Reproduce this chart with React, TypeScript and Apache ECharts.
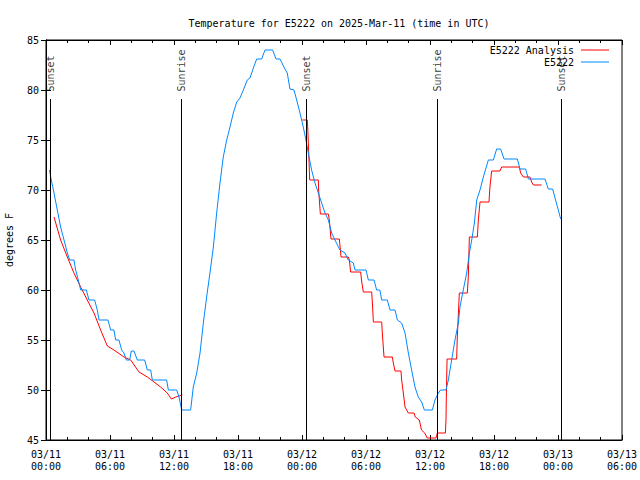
import React, { useEffect, useRef } from "react";
import * as echarts from "echarts";

// Hours since 03/11 00:00 UTC
const xTickLabels = [
  "03/11\n00:00", "03/11\n06:00", "03/11\n12:00", "03/11\n18:00",
  "03/12\n00:00", "03/12\n06:00", "03/12\n12:00", "03/12\n18:00",
  "03/13\n00:00", "03/13\n06:00",
];

const obsName = "E5222";
const anaName = "E5222 Analysis";

const blueTime = [
  0.33, 0.44, 0.75, 1.06, 1.37, 1.69, 2.0, 2.22, 2.62, 2.78, 3.03, 3.25, 3.78, 4.03, 4.56, 4.81,
  4.97, 5.81, 6.06, 6.37, 6.53, 6.84, 7.09, 7.31, 7.53, 7.84, 8.0, 8.25, 8.56, 9.25, 9.5, 9.81,
  9.97, 11.31, 11.47, 12.25, 12.47, 12.72, 13.56, 13.81, 14.13, 14.44, 14.75, 15.06, 15.37, 15.69,
  16.0, 16.31, 16.62, 16.94, 17.25, 17.56, 17.88, 18.19, 18.5, 18.87, 19.12, 19.44, 19.75, 20.22,
  20.53, 21.25, 21.56, 21.94, 22.4, 22.62, 22.87, 23.25, 23.5, 23.81, 24.12, 24.37, 24.59, 24.9,
  25.22, 25.53, 25.84, 26.16, 26.47, 26.78, 27.09, 27.56, 28.03, 28.34, 28.81, 28.97, 30.0, 30.22,
  30.75, 31.0, 31.3, 31.47, 32.0, 32.25, 32.72, 32.94, 33.34, 33.66, 33.97, 34.28, 34.59, 34.9,
  35.22, 35.47, 36.22, 36.47, 36.78, 37.0, 37.5, 37.72, 38.03, 38.34, 38.66, 38.81, 39.12, 39.44,
  39.69, 39.91, 40.16, 40.38, 40.69, 41.0, 41.47, 41.94, 42.25, 42.62, 42.94, 44.19, 44.44, 44.97,
  45.22, 46.78, 47.09, 47.5, 47.72, 48.03, 48.25,
];
const blueTemp = [
  72.0, 71.3, 69.7, 68.0, 66.3, 65.0, 63.7, 63.0, 63.0, 62.0, 61.0, 60.0, 60.0, 59.0, 59.0, 58.0,
  57.0, 57.0, 56.0, 56.0, 55.0, 55.0, 54.0, 53.7, 53.0, 53.0, 53.9, 53.9, 53.0, 53.0, 52.0, 52.0,
  51.0, 51.0, 50.0, 50.0, 49.3, 48.0, 48.0, 50.3, 51.7, 53.7, 56.7, 59.3, 61.7, 64.3,
  67.7, 70.7, 73.3, 75.0, 76.3, 77.7, 78.8, 79.2, 80.0, 81.0, 81.2, 82.2, 83.1, 83.1,
  84.0, 84.0, 83.1, 83.1, 82.1, 81.7, 80.1, 80.0, 79.0, 77.7, 76.3, 75.0, 73.7, 72.0,
  70.7, 69.7, 68.7, 67.7, 67.0, 65.7, 65.0, 64.0, 63.7, 63.0, 62.7, 62.0, 62.0, 61.0,
  61.0, 60.0, 60.0, 59.0, 59.0, 58.0, 58.0, 57.0, 56.7, 55.7, 53.7, 52.0, 50.3, 49.3,
  48.8, 48.0, 48.0, 49.0, 49.7, 50.0, 50.0, 51.0, 53.0, 55.0, 56.7, 58.3, 60.0, 61.7,
  63.7, 65.0, 66.7, 69.0, 70.0, 71.3, 73.0, 73.0, 74.1, 74.1, 73.1, 73.1, 72.1, 72.1,
  71.1, 71.1, 70.1, 70.1, 69.2, 68.0, 67.1,
];

const redTime = [
  0.75, 1.37, 2.0, 2.62, 3.25, 3.87, 4.5, 5.12, 5.75, 6.37, 7.31, 7.94, 8.72, 9.5, 10.12, 10.75,
  11.37, 11.75, 12.16, 12.47, 12.78,
  18.0,
  24.03, 24.5, 24.55, 24.62, 24.72, 25.53, 25.56, 25.72, 26.47, 26.56, 26.72, 27.5, 27.6, 27.66,
  28.34, 28.44, 28.56, 29.5, 29.6, 29.75, 30.53, 30.6, 30.69, 31.47, 31.53, 31.69, 32.47, 32.56,
  32.72, 33.28, 33.34, 33.5, 33.66, 33.81, 33.97, 34.5, 34.62, 35.0, 35.2, 35.5, 35.75, 36.56,
  36.69, 37.44, 37.5, 37.53, 37.6, 38.5, 38.56, 38.75, 39.5, 39.59, 39.69, 40.44, 40.53, 40.69,
  41.53, 41.62, 41.78, 42.56, 42.72, 44.37, 44.5, 44.75, 45.37, 45.53, 45.69, 46.47,
];
const redTemp: (number | null)[] = [
  67.3, 65.0, 63.3, 61.7, 60.3, 59.0, 57.7, 56.0, 54.4, 54.0, 53.3, 53.0, 51.8, 51.3, 50.8, 50.3,
  49.7, 49.1, 49.3, 49.4, 49.5,
  null,
  77.0, 77.0, 75.9, 74.0, 71.0, 71.0, 70.0, 67.6, 67.6, 67.0, 65.1, 65.1, 64.0, 63.3,
  63.3, 63.0, 61.8, 61.8, 60.8, 59.8, 59.8, 58.7, 56.8, 56.8, 55.7, 53.3, 53.3, 52.7,
  51.9, 51.9, 51.0, 49.7, 48.3, 48.0, 47.7, 47.7, 47.3, 47.0, 46.0, 45.7, 45.2, 45.2,
  45.7, 45.7, 47.0, 49.3, 53.1, 53.1, 55.3, 59.7, 59.7, 61.3, 65.3, 65.3, 67.0, 68.8,
  68.8, 70.3, 71.9, 71.9, 72.3, 72.3, 71.7, 71.3, 71.3, 70.8, 70.5, 70.5,
];

const sunTimes = [0.375, 12.72, 24.44, 36.69, 48.34];
const sunNames = ["Sunset", "Sunrise", "Sunset", "Sunrise", "Sunset"];
const sunLineTop = 79.1;
const sunLabelBase = 79.8;

const FONT = "DejaVu Sans Mono";
const BLUE = "#0088ff";
const RED = "#ff0000";

export default function App() {
  const ref = useRef<HTMLDivElement>(null);
  useEffect(() => {
    if (!ref.current) return;
    const chart = echarts.init(ref.current, null, { renderer: "svg" });
    const tickCommon = {
      axisLine: { show: true, lineStyle: { color: "#000", width: 1 } },
      axisTick: { show: true, inside: true, length: 5, lineStyle: { color: "#000" } },
      splitLine: { show: false },
    };
    const xCommon = {
      type: "value",
      min: 0,
      max: 54,
      interval: 6,
      ...tickCommon,
      minorTick: { show: true, splitNumber: 3, length: 3, lineStyle: { color: "#000" } },
    };
    chart.setOption({
      animation: false,
      backgroundColor: "#fff",
      title: {
        text: "Temperature for E5222 on 2025-Mar-11 (time in UTC)",
        left: 334,
        top: 13,
        textAlign: "center",
        textStyle: { fontFamily: FONT, fontSize: 10, fontWeight: "normal", color: "#000" },
      },
      grid: {
        left: 46,
        right: 18,
        top: 40,
        bottom: 40,
        show: true,
        borderColor: "#000",
        borderWidth: 1,
        containLabel: false,
        outerBoundsMode: "none",
      },
      xAxis: [
        {
          ...xCommon,
          position: "bottom",
          axisLabel: {
            formatter: (v: number) => xTickLabels[Math.round(v / 6)] ?? "",
            fontFamily: FONT,
            fontSize: 10,
            color: "#000",
            lineHeight: 12,
            margin: 8,
          },
        },
        { ...xCommon, position: "top", axisLabel: { show: false } },
      ],
      yAxis: [
        {
          type: "value",
          min: 45,
          max: 85,
          interval: 5,
          position: "left",
          ...tickCommon,
          axisLabel: { fontFamily: FONT, fontSize: 10, color: "#000", margin: 7 },
          name: "degrees F",
          nameLocation: "middle",
          nameRotate: 90,
          nameGap: 32,
          nameTextStyle: { fontFamily: FONT, fontSize: 10, color: "#000" },
        },
        {
          type: "value",
          min: 45,
          max: 85,
          interval: 5,
          position: "right",
          ...tickCommon,
          axisLabel: { show: false },
        },
      ],
      series: [
        {
          name: "sun",
          type: "scatter",
          symbol: "circle",
          symbolSize: 1,
          itemStyle: { color: "rgba(0,0,0,0)" },
          silent: true,
          data: sunTimes.map((t, i) => ({ name: sunNames[i], value: [t, sunLabelBase] })),
          label: {
            show: true,
            formatter: (p: any) => p.name,
            position: "top",
            distance: 0,
            rotate: 90,
            align: "left",
            verticalAlign: "middle",
            offset: [1, 0],
            fontFamily: FONT,
            fontSize: 10,
            color: "#000",
          },
          labelLayout: { hideOverlap: false },
          markLine: {
            silent: true,
            symbol: ["none", "none"],
            label: { show: false },
            lineStyle: { color: "#000", type: "solid", width: 1 },
            data: sunTimes.map((t) => [{ coord: [t, sunLineTop] }, { coord: [t, 45] }]),
          },
          z: 1,
        },
        {
          name: anaName,
          type: "line",
          showSymbol: false,
          symbol: "none",
          connectNulls: false,
          lineStyle: { color: RED, width: 1 },
          itemStyle: { color: RED },
          data: redTime.map((t, i) => [t, redTemp[i] === null ? "-" : redTemp[i]]),
          z: 3,
        },
        {
          name: obsName,
          type: "line",
          showSymbol: false,
          symbol: "none",
          lineStyle: { color: BLUE, width: 1 },
          itemStyle: { color: BLUE },
          data: blueTime.map((t, i) => [t, blueTemp[i]]),
          z: 4,
        },
      ],
      graphic: [
        {
          type: "text",
          x: 574,
          y: 50,
          style: { text: anaName, textAlign: "right", textVerticalAlign: "middle", font: `10px '${FONT}'`, fill: "#000" },
        },
        { type: "line", shape: { x1: 581, y1: 50, x2: 609, y2: 50 }, style: { stroke: RED, lineWidth: 1 } },
        {
          type: "text",
          x: 574,
          y: 62,
          style: { text: obsName, textAlign: "right", textVerticalAlign: "middle", font: `10px '${FONT}'`, fill: "#000" },
        },
        { type: "line", shape: { x1: 581, y1: 62, x2: 609, y2: 62 }, style: { stroke: BLUE, lineWidth: 1 } },
      ],
    });
    return () => chart.dispose();
  }, []);
  return (
    <div
      ref={ref}
      style={{ position: "fixed", left: 0, top: 0, width: 640, height: 480, background: "#fff" }}
    />
  );
}
